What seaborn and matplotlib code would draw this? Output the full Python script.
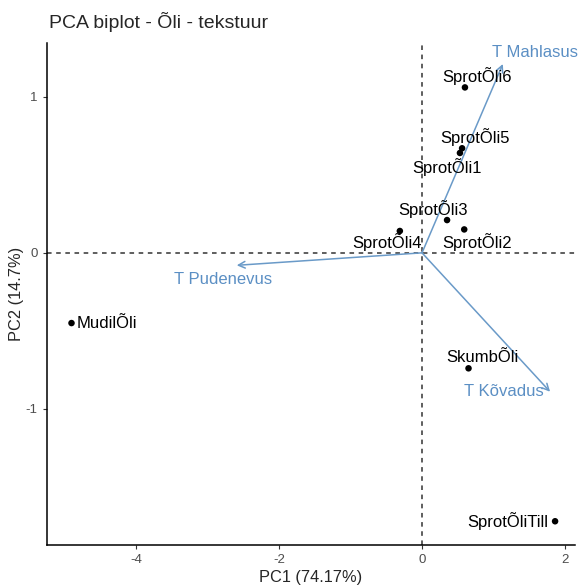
import matplotlib
matplotlib.use("Agg")
import matplotlib.pyplot as plt
import seaborn as sns
import pandas as pd

# --- data ---
samples = ["SprotÕli6", "SprotÕli5", "SprotÕli1", "SprotÕli3", "SprotÕli2",
           "SprotÕli4", "MudilÕli", "SkumbÕli", "SprotÕliTill"]
pc1 = [0.60, 0.56, 0.53, 0.35, 0.59, -0.31, -4.90, 0.65, 1.86]
pc2 = [1.06, 0.67, 0.64, 0.21, 0.15, 0.14, -0.45, -0.74, -1.72]

variables = ["T Mahlasus", "T Pudenevus", "T Kõvadus"]
load1 = [1.13, -2.59, 1.79]
load2 = [1.21, -0.08, -0.89]

# label offsets in points (repel-like placement)
sample_offsets = [(9, 8), (9, 8), (-9, -10), (-10, 8), (9, -9),
                  (-9, -8), (4, 0), (10, 8), (-5, 0)]
sample_ha = ["center", "center", "center", "center", "center",
             "center", "left", "center", "right"]
var_offsets = [(23, 8), (-10, -10), (-33, 0)]

df = pd.DataFrame({"sample": samples, "PC1": pc1, "PC2": pc2})

sns.set_theme(style="ticks")
plt.rcParams["font.family"] = ["Liberation Sans", "DejaVu Sans"]
plt.rcParams["axes.unicode_minus"] = False

fig = plt.figure(figsize=(5.78, 5.86), dpi=100)
ax = fig.add_axes([0.081, 0.070, 0.914, 0.857])

ax.axhline(0, color="#333333", ls=(0, (3, 3)), lw=1.1, zorder=1)
ax.axvline(0, color="#333333", ls=(0, (3, 3)), lw=1.1, zorder=1)

sns.scatterplot(data=df, x="PC1", y="PC2", color="black", s=22,
                edgecolor="none", ax=ax, zorder=3)

for name, x, y, off, ha in zip(samples, pc1, pc2, sample_offsets, sample_ha):
    ax.annotate(name, (x, y), xytext=off, textcoords="offset points",
                ha=ha, va="center", fontsize=12, color="black", zorder=4)

arrow_col = "#6A9AC8"
for name, x, y, off in zip(variables, load1, load2, var_offsets):
    ax.annotate("", xy=(x, y), xytext=(0, 0),
                arrowprops=dict(arrowstyle="->", color=arrow_col, lw=1.1,
                                mutation_scale=12, shrinkA=0, shrinkB=0),
                zorder=2)
    ax.annotate(name, (x, y), xytext=off, textcoords="offset points",
                ha="center", va="center", fontsize=12, color="#5B8FC4",
                zorder=4)

ax.set_xlim(-5.245, 2.14)
ax.set_ylim(-1.872, 1.346)
ax.set_xticks([-4, -2, 0, 2])
ax.set_yticks([-1, 0, 1])
ax.tick_params(axis="both", labelsize=9.5, labelcolor="#4D4D4D",
               length=3, width=0.8, color="#333333")
sns.despine(ax=ax)
for sp in ["left", "bottom"]:
    ax.spines[sp].set_linewidth(1.1)
    ax.spines[sp].set_color("black")

ax.set_xlabel("PC1 (74.17%)", fontsize=11.8, labelpad=3)
ax.set_ylabel("PC2 (14.7%)", fontsize=11.8, labelpad=1)
fig.text(0.085, 0.962, "PCA biplot - Õli - tekstuur", fontsize=14,
         ha="left", va="center")

fig.savefig("out.png", dpi=100)
